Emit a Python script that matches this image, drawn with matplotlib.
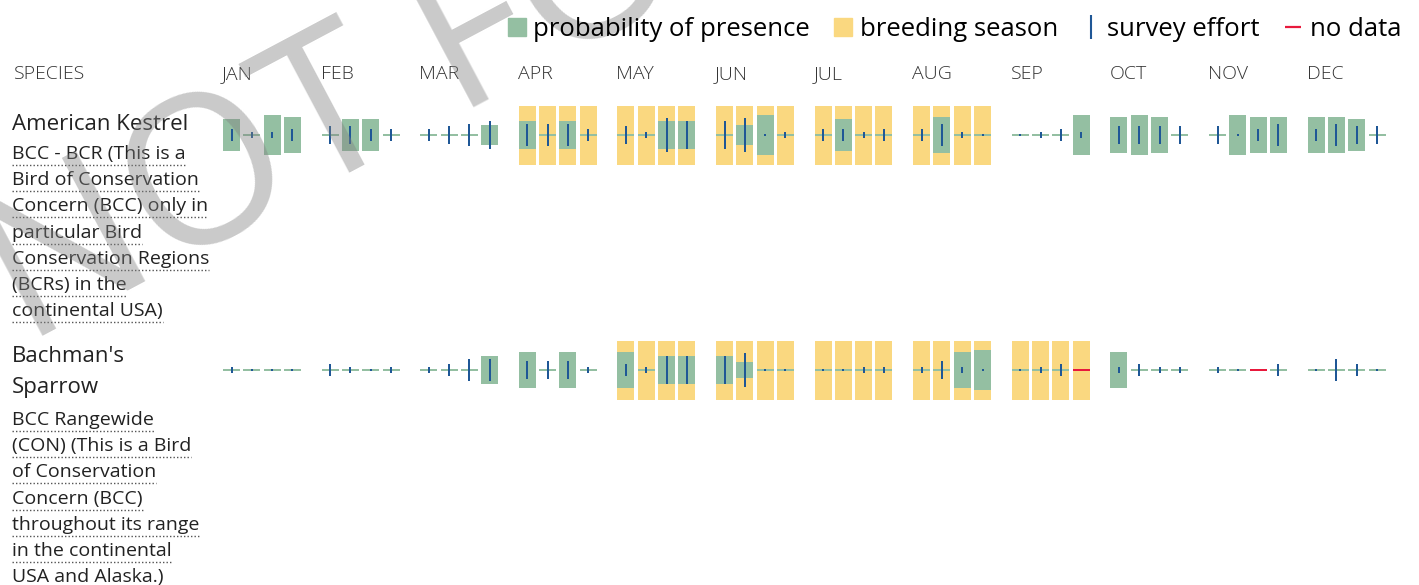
"""
Bird presence chart: probability of presence, breeding season and survey effort by week.
"""

import matplotlib
matplotlib.use('Agg')
import matplotlib.pyplot as plt
from matplotlib.lines import Line2D
import numpy as np

# months and species
months = ['JAN', 'FEB', 'MAR', 'APR', 'MAY', 'JUN', 'JUL', 'AUG', 'SEP', 'OCT', 'NOV', 'DEC']
species_names = ['American Kestrel', "Bachman's\nSparrow"]
species_notes = [
    ['BCC - BCR (This is a', 'Bird of Conservation', 'Concern (BCC) only in',
     'particular Bird', 'Conservation Regions', '(BCRs) in the', 'continental USA)'],
    ['BCC Rangewide', '(CON) (This is a Bird', 'of Conservation', 'Concern (BCC)',
     'throughout its range', 'in the continental', 'USA and Alaska.)'],
]

# probability of presence per week, score 0-10 (48 weeks)
kestrel_presence = [8, 0, 10, 9,   0, 8, 8, 0,   0, 0, 0, 5,
                    7, 0, 7, 0,    0, 0, 7, 7,   0, 5, 10, 0,
                    0, 8, 0, 0,    0, 9, 0, 0,   0, 0, 0, 10,
                    9, 10, 9, 0,   0, 10, 9, 9,  9, 9, 8, 0]
sparrow_presence = [0, 0, 0, 0,    0, 0, 0, 0,   0, 0, 0, 7,
                    9, 0, 9, 0,    9, 0, 7, 7,   7, 4, 0, 0,
                    0, 0, 0, 0,    0, 0, 9, 10,  0, 0, 0, 0,
                    9, 0, 0, 0,    0, 0, 0, 0,   0, 0, 0, 0]

# survey effort per week, level 0-6 (0 = tiny mark)
kestrel_effort = [2, 1, 1, 2,   3, 3, 2, 2,   2, 3, 4, 5,
                  4, 4, 4, 2,   3, 1, 6, 5,   5, 6, 0, 1,
                  2, 2, 1, 2,   2, 4, 1, 0,   0, 1, 2, 1,
                  3, 3, 3, 3,   3, 0, 2, 4,   2, 4, 3, 3]
sparrow_effort = [1, 0, 0, 0,   2, 1, 0, 1,   1, 2, 4, 4,
                  3, 3, 3, 1,   2, 1, 5, 5,   5, 6, 0, 0,
                  0, 0, 1, 1,   1, 3, 1, 0,   0, 1, 2, 0,
                  1, 2, 1, 1,   1, 0, 0, 2,   0, 4, 2, 0]

# weeks with no data (index into 48 weeks)
kestrel_nodata = []
sparrow_nodata = [35, 42]

# breeding season months (index)
kestrel_breeding = [3, 4, 5, 6, 7]
sparrow_breeding = [4, 5, 6, 7, 8]

presence = [kestrel_presence, sparrow_presence]
effort = [kestrel_effort, sparrow_effort]
nodata = [kestrel_nodata, sparrow_nodata]
breeding = [kestrel_breeding, sparrow_breeding]

GREEN = '#94bfa2'
YELLOW = '#fad880'
BLUE = '#1f5796'
RED = '#e8193c'
TEXT = '#222222'

W, H = 1419, 585
plt.rcParams['font.family'] = ['Open Sans', 'DejaVu Sans']

fig = plt.figure(figsize=(W / 100, H / 100), dpi=100)
ax = fig.add_axes([0, 0, 1, 1])
ax.set_xlim(0, W)
ax.set_ylim(H, 0)
ax.axis('off')

# layout in pixel units
x_first = 223
month_step = 98.6
week_step = 20.3
bar_w = 17
row_y = [135, 370]
px = 0.72  # points per pixel at dpi 100

week_idx = np.arange(48)
week_left = x_first + (week_idx // 4) * month_step + (week_idx % 4) * week_step
week_center = week_left + bar_w / 2

for r in range(2):
    y0 = row_y[r]
    # breeding season
    bweeks = [w for w in week_idx if w // 4 in breeding[r]]
    ax.bar(week_center[bweeks], 59, width=bar_w, bottom=y0 - 29, color=YELLOW, zorder=1)
    # baseline
    base = [w for w in week_idx if w not in nodata[r]]
    ax.hlines([y0] * len(base), week_left[base], week_left[base] + bar_w,
              color=GREEN, lw=2 * px, zorder=2)
    nd = nodata[r]
    if nd:
        ax.hlines([y0] * len(nd), week_left[nd], week_left[nd] + bar_w,
                  color=RED, lw=2 * px, zorder=2)
    # probability of presence
    p = np.array(presence[r], dtype=float) * 4
    ax.bar(week_center, p, width=bar_w, bottom=y0 - p / 2, color=GREEN, zorder=3)
    # survey effort
    e = np.array(effort[r], dtype=float)
    length = np.where(e == 0, 2, e * 5.67)
    keep = [w for w in week_idx if w not in nd]
    ax.vlines(week_center[keep], y0 - length[keep] / 2, y0 + length[keep] / 2,
              color=BLUE, lw=2 * px, zorder=4)

# header
ax.text(14, 74, 'SPECIES', fontsize=14, fontweight='light', color='#333333', va='center')
for m, name in enumerate(months):
    ax.text(x_first + m * month_step - 1, 74, name, fontsize=14, fontweight='light',
            color='#333333', va='center')

# species labels
title_y = [125, 360]
note_y = [154, 420]
line_h = 26.2
notes = []
ax.text(12, title_y[0], species_names[0], fontsize=16, color=TEXT, va='center')
ax.text(12, title_y[1] - 14, species_names[1], fontsize=16, color=TEXT, va='top',
        linespacing=1.6)
for r in range(2):
    for i, line in enumerate(species_notes[r]):
        y = note_y[r] + i * line_h
        t = ax.text(12, y, line, fontsize=14, color=TEXT, va='center')
        notes.append((t, y))

# dotted underline under note lines
fig.canvas.draw()
renderer = fig.canvas.get_renderer()
inv = ax.transData.inverted()
for t, y in notes:
    bb = t.get_window_extent(renderer)
    x1 = inv.transform((bb.x1, bb.y0))[0]
    ax.plot([12, x1], [y + 11, y + 11], color='#555555', lw=1.4 * px,
            linestyle=(0, (1, 1.5)), zorder=2)

# legend
handles = [
    Line2D([], [], marker='s', color=GREEN, linestyle='none', markersize=13),
    Line2D([], [], marker='s', color=YELLOW, linestyle='none', markersize=13),
    Line2D([], [], marker='|', color=BLUE, linestyle='none', markersize=17, markeredgewidth=1.5),
    Line2D([], [], marker='_', color=RED, linestyle='none', markersize=11.5, markeredgewidth=1.6),
]
labels = ['probability of presence', 'breeding season', 'survey effort', 'no data']
fig.legend(handles, labels, loc='center right', bbox_to_anchor=(1401 / W, 1 - 29 / H), ncol=4,
           frameon=False, fontsize=18.5, handlelength=0.7, handletextpad=0.28,
           columnspacing=0.95, borderpad=0, borderaxespad=0)

# watermark
ax.text(25, 345, 'NOT FOR CONSULTATION', fontsize=150, color='gray', alpha=0.42,
        rotation=28, rotation_mode='anchor', ha='left', va='baseline', zorder=10)

plt.savefig('out.png', dpi=100)
plt.close()
